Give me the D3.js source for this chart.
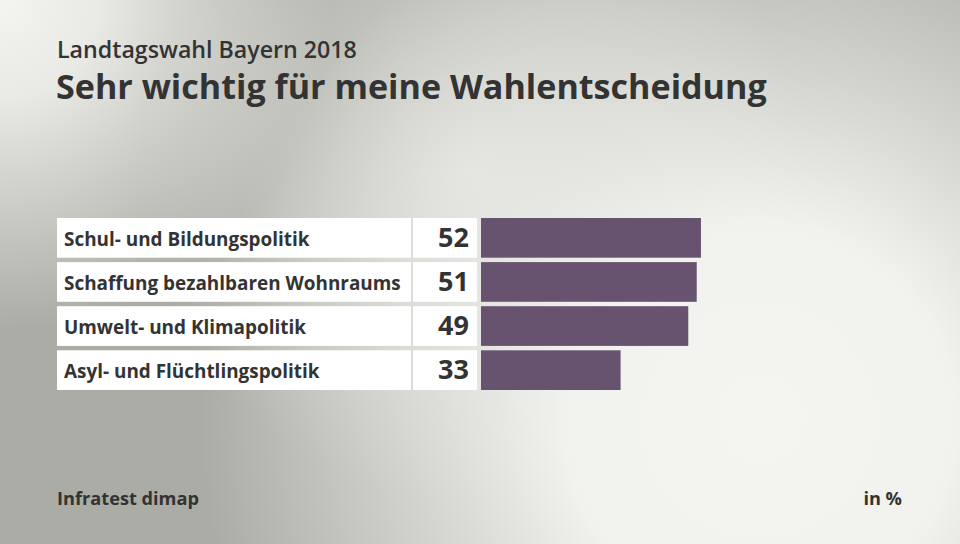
<!DOCTYPE html>
<html><head><meta charset="utf-8">
<script src="https://cdn.jsdelivr.net/npm/d3@7"></script>
<style>html,body{margin:0;padding:0;overflow:hidden;background:#b0b1aa}</style>
</head><body>
<svg id="c" width="960" height="544"></svg>
<script>
const categories = ["Schul- und Bildungspolitik","Schaffung bezahlbaren Wohnraums","Umwelt- und Klimapolitik","Asyl- und Flüchtlingspolitik"];
const values = [52, 51, 49, 33];
const supTitle = "Landtagswahl Bayern 2018";
const title = "Sehr wichtig für meine Wahlentscheidung";
const source = "Infratest dimap";
const unit = "in %";

const W = 960, H = 544;
const font = "'Open Sans', sans-serif";
const svg = d3.select("#c");
const defs = svg.append("defs");

function radial(id, cx, cy, r, stops){
  const g = defs.append("radialGradient").attr("id", id).attr("gradientUnits","userSpaceOnUse")
    .attr("cx", cx).attr("cy", cy).attr("r", r);
  stops.forEach(s => g.append("stop").attr("offset", s[0]).attr("stop-color", s[1]).attr("stop-opacity", s[2]));
}
radial("g1", 760, 420, 560, [[0,"#f4f4f0",1],[0.35,"#f1f1ed",1],[1,"#f1f1ed",0]]);
radial("g2", 0, 0, 330, [[0,"#f4f4f0",1],[0.3,"#f0f0ec",0.9],[1,"#f0f0ec",0]]);
radial("g3", 470, 170, 330, [[0,"#e6e6e2",0.8],[1,"#e6e6e2",0]]);

svg.append("rect").attr("width", W).attr("height", H).attr("fill", "#abaca5");
svg.append("rect").attr("width", W).attr("height", H).attr("fill", "url(#g3)");
svg.append("rect").attr("width", W).attr("height", H).attr("fill", "url(#g1)");
svg.append("rect").attr("width", W).attr("height", H).attr("fill", "url(#g2)");

// scale font size so text reaches a target width
function fit(sel, target, base){
  let maxW = 0;
  sel.each(function(){ maxW = Math.max(maxW, this.getComputedTextLength()); });
  if (maxW > 0) sel.attr("font-size", base * target / maxW);
}

const st = svg.append("text").attr("x", 57).attr("y", 58).attr("font-family", font).attr("font-weight", 600)
  .attr("font-size", 20).attr("fill", "#333333").text(supTitle);
fit(st, 300, 20);
const tt = svg.append("text").attr("x", 56).attr("y", 99).attr("font-family", font).attr("font-weight", 700)
  .attr("font-size", 31).attr("fill", "#333333").text(title);
fit(tt, 711, 31);

const y = d3.scaleBand().domain(categories).range([218, 390]).paddingInner(0.1).paddingOuter(0);
const x = d3.scaleLinear().domain([0, 100]).range([481, 481 + 423]);

const rows = svg.append("g").selectAll("g").data(categories).join("g");
rows.append("rect").attr("x", 57).attr("width", 354).attr("y", d => y(d)).attr("height", y.bandwidth()).attr("fill", "#ffffff");
rows.append("rect").attr("x", 413).attr("width", 64).attr("y", d => y(d)).attr("height", y.bandwidth()).attr("fill", "#ffffff");
rows.append("rect").attr("x", x(0)).attr("y", d => y(d)).attr("height", y.bandwidth())
  .attr("width", (d,i) => x(values[i]) - x(0)).attr("fill", "#67526f");
const lbl = rows.append("text").attr("x", 64).attr("y", d => y(d) + 28).attr("font-family", font).attr("font-weight", 700)
  .attr("font-size", 17).attr("fill", "#333333").text(d => d);
fit(lbl, 337, 17);
rows.append("text").attr("x", 469).attr("y", d => y(d) + 28.5).attr("text-anchor", "end").attr("font-family", font)
  .attr("font-weight", 700).attr("font-size", 27).attr("fill", "#333333").text((d,i) => values[i]);

svg.append("text").attr("x", 57).attr("y", 505).attr("font-family", font).attr("font-weight", 700)
  .attr("font-size", 18.2).attr("fill", "#333333").text(source);
svg.append("text").attr("x", 902).attr("y", 505).attr("text-anchor", "end").attr("font-family", font).attr("font-weight", 700)
  .attr("font-size", 18.2).attr("fill", "#333333").text(unit);
</script>
</body></html>
